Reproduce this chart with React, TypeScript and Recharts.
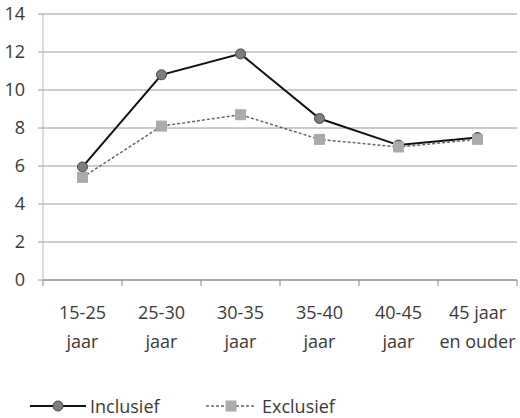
import { LineChart, Line, XAxis, YAxis, CartesianGrid, Legend } from 'recharts';

// Age groups (two-line labels) and the two series
const categories = [
  '15-25\njaar',
  '25-30\njaar',
  '30-35\njaar',
  '35-40\njaar',
  '40-45\njaar',
  '45 jaar\nen ouder',
];
const inclusief = [5.95, 10.8, 11.9, 8.5, 7.1, 7.5];
const exclusief = [5.4, 8.1, 8.7, 7.4, 7.0, 7.4];
const yTicks = [0, 2, 4, 6, 8, 10, 12, 14];

const data = categories.map((name, i) => ({
  name,
  inclusief: inclusief[i],
  exclusief: exclusief[i],
}));

const WIDTH = 520;
const HEIGHT = 418;
const MARGIN = { top: 14, right: 3, bottom: 0, left: 0 };
const Y_AXIS_WIDTH = 43;
const BAND = (WIDTH - MARGIN.right - MARGIN.left - Y_AXIS_WIDTH) / categories.length;
const FONT = '"Open Sans", "Noto Sans", sans-serif';
const TEXT = '#3a3a3a';

function CategoryTick(props: any) {
  const { x, y, payload, index } = props;
  const lines = String(payload.value).split('\n');
  return (
    <g>
      <line x1={x - BAND / 2} x2={x - BAND / 2} y1={y} y2={y + 6} stroke="#888" />
      {index === categories.length - 1 && (
        <line x1={x + BAND / 2} x2={x + BAND / 2} y1={y} y2={y + 6} stroke="#888" />
      )}
      <text x={x} y={y + 39} textAnchor="middle" fill={TEXT} fontSize={18} fontFamily={FONT}>
        {lines.map((l, i) => (
          <tspan key={i} x={x} dy={i === 0 ? 0 : 29}>
            {l}
          </tspan>
        ))}
      </text>
    </g>
  );
}

function CircleDot(props: any) {
  const { cx, cy } = props;
  if (cx == null || cy == null) return null;
  return <circle cx={cx} cy={cy} r={5} fill="#7d7d7d" stroke="#4a4a4a" strokeWidth={1} />;
}

function SquareDot(props: any) {
  const { cx, cy } = props;
  if (cx == null || cy == null) return null;
  return <rect x={cx - 5.5} y={cy - 5.5} width={11} height={11} fill="#ababab" />;
}

function LegendContent() {
  const item = (kind: 'circle' | 'square', label: string, left: number) => (
    <div
      style={{
        position: 'absolute',
        left,
        top: 26,
        height: 20,
        display: 'flex',
        alignItems: 'center',
      }}
    >
      <svg width={kind === 'circle' ? 58 : 52} height={16}>
        {kind === 'circle' ? (
          <>
            <line x1={0} x2={56} y1={8} y2={8} stroke="#111" strokeWidth={2} />
            <circle cx={28} cy={8} r={5} fill="#7d7d7d" stroke="#4a4a4a" />
          </>
        ) : (
          <>
            <line x1={0} x2={50} y1={8} y2={8} stroke="#666" strokeWidth={1.5} strokeDasharray="3 2" />
            <rect x={19.5} y={2.5} width={11} height={11} fill="#ababab" />
          </>
        )}
      </svg>
      <span
        style={{
          fontFamily: FONT,
          fontSize: 18,
          lineHeight: '20px',
          color: TEXT,
          marginLeft: kind === 'circle' ? 2 : 4,
        }}
      >
        {label}
      </span>
    </div>
  );
  return (
    <div style={{ position: 'relative', width: WIDTH, height: 48 }}>
      {item('circle', 'Inclusief', 30)}
      {item('square', 'Exclusief', 206)}
    </div>
  );
}

export default function App() {
  return (
    <div style={{ position: 'absolute', left: 0, top: 0, background: '#fff' }}>
      <LineChart width={WIDTH} height={HEIGHT} data={data} margin={MARGIN}>
        <CartesianGrid vertical={false} stroke="#9a9a9a" />
        <XAxis
          dataKey="name"
          scale="band"
          height={90}
          interval={0}
          tickSize={0}
          tickMargin={0}
          tickLine={false}
          axisLine={{ stroke: '#888' }}
          tick={<CategoryTick />}
        />
        <YAxis
          width={Y_AXIS_WIDTH}
          domain={[0, 14]}
          ticks={yTicks}
          interval={0}
          tickSize={5}
          tickMargin={13}
          axisLine={{ stroke: '#bbb' }}
          tickLine={{ stroke: '#9a9a9a' }}
          tick={{ fill: TEXT, fontSize: 18, fontFamily: FONT }}
        />
        <Legend
          verticalAlign="bottom"
          align="left"
          content={<LegendContent />}
          wrapperStyle={{ height: 48, width: WIDTH, left: 0 }}
        />
        <Line
          type="linear"
          dataKey="inclusief"
          name="Inclusief"
          stroke="#111"
          strokeWidth={2}
          dot={<CircleDot />}
          activeDot={false}
          isAnimationActive={false}
        />
        <Line
          type="linear"
          dataKey="exclusief"
          name="Exclusief"
          stroke="#666"
          strokeWidth={1.5}
          strokeDasharray="3 2"
          dot={<SquareDot />}
          activeDot={false}
          isAnimationActive={false}
        />
      </LineChart>
    </div>
  );
}
